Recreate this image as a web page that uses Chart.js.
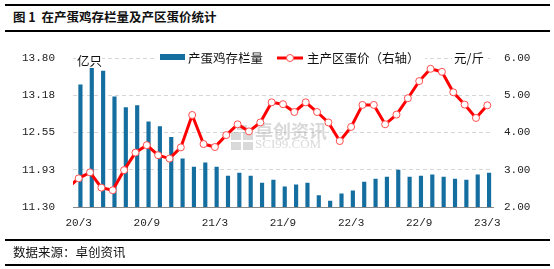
<!DOCTYPE html>
<html lang="zh">
<head>
<meta charset="UTF-8">
<title>在产蛋鸡存栏量及产区蛋价统计</title>
<style>
    body { margin: 0; background: #fff; }
    .wrap { position: relative; width: 554px; height: 269px; overflow: hidden; font-family: "Noto Sans CJK SC", sans-serif; color: #111; }
    .rule { position: absolute; left: 5px; width: 545px; height: 0; border-top: 2px solid #000; }
    .title { position: absolute; left: 13px; top: 7px; font-size: 12.5px; font-weight: bold; line-height: 20px; }
    .source { position: absolute; left: 13px; top: 243px; font-size: 12.5px; line-height: 18px; }
    canvas { position: absolute; left: 0; top: 0; }
</style>
</head>
<body>
<div class="wrap">
    <div class="rule" style="top:4px"></div>
    <div class="title">图 1&nbsp; 在产蛋鸡存栏量及产区蛋价统计</div>
    <div class="rule" style="top:30px"></div>
    <canvas id="chart" width="554" height="269"></canvas>
    <div class="rule" style="top:239px"></div>
    <div class="source">数据来源：卓创资讯</div>
    <div class="rule" style="top:264px"></div>
</div>

<script src="https://cdn.jsdelivr.net/npm/chart.js"></script>
<script>
    const months = ['20/3','20/4','20/5','20/6','20/7','20/8','20/9','20/10','20/11','20/12',
                    '21/1','21/2','21/3','21/4','21/5','21/6','21/7','21/8','21/9','21/10','21/11','21/12',
                    '22/1','22/2','22/3','22/4','22/5','22/6','22/7','22/8','22/9','22/10','22/11','22/12',
                    '23/1','23/2','23/3'];
    // 在产蛋鸡存栏量 (亿只)
    const stock = [13.35, 13.70, 13.58, 13.15, 12.97, 13.00, 12.73, 12.65, 12.47, 12.11,
                   11.97, 12.04, 11.97, 11.82, 11.87, 11.82, 11.70, 11.75, 11.64, 11.67,
                   11.70, 11.49, 11.40, 11.52, 11.57, 11.72, 11.77, 11.80, 11.92, 11.80,
                   11.82, 11.84, 11.80, 11.77, 11.75, 11.84, 11.87];
    // 主产区蛋价 (元/斤), the month before 20/3 only shows as the clipped start of the line
    const priceBefore = 2.5;
    const price = [2.77, 2.93, 2.52, 2.45, 2.99, 3.46, 3.66, 3.39, 3.30, 3.60,
                   4.47, 3.69, 3.61, 3.93, 4.22, 4.03, 4.27, 4.81, 4.76, 4.55,
                   4.81, 4.55, 4.27, 3.77, 4.15, 4.74, 4.74, 4.22, 4.48, 4.92,
                   5.38, 5.71, 5.63, 5.08, 4.75, 4.39, 4.73];
    const leftTicks = [11.30, 11.925, 12.55, 13.175, 13.80];
    const leftLabels = ['11.30', '11.93', '12.55', '13.18', '13.80'];
    const rightTicks = [2, 3, 4, 5, 6];

    const BLUE = '#156ea0';
    const RED = '#ff0000';
    const tickFont = { family: 'Liberation Mono', size: 11 };

    const linePoints = [{ x: -1, y: priceBefore }].concat(price.map((v, i) => ({ x: i, y: v })));

    const extras = {
        id: 'extras',
        beforeDatasetsDraw(chart) {
            // watermark
            const ctx = chart.ctx;
            ctx.save();
            ctx.fillStyle = 'rgba(160,160,160,0.4)';
            ctx.fillRect(231, 132, 10, 8);
            ctx.fillRect(243, 132, 10, 8);
            ctx.fillRect(231, 142, 10, 8);
            ctx.fillRect(243, 142, 10, 8);
            ctx.fillRect(237, 125, 10, 5);
            ctx.font = 'bold 18px "Noto Sans CJK SC"';
            ctx.textBaseline = 'middle';
            ctx.fillText('卓创资讯', 255, 131);
            ctx.font = '13px "Liberation Serif"';
            ctx.fillText('SCI99.COM', 255, 145);
            ctx.restore();
        },
        afterDraw(chart) {
            const ctx = chart.ctx;
            ctx.save();
            ctx.fillStyle = '#fff';
            ctx.fillRect(76, 52, 26, 16);
            ctx.fillRect(157, 51, 268, 15);
            ctx.fillRect(452, 51, 36, 15);
            ctx.fillStyle = '#111';
            ctx.textBaseline = 'middle';
            ctx.font = '12.5px "Noto Sans CJK SC"';
            ctx.fillText('亿只', 77, 61);
            ctx.fillText('元/斤', 454, 58);
            // legend
            ctx.fillStyle = BLUE;
            ctx.fillRect(160, 54, 25, 6);
            ctx.fillStyle = '#111';
            ctx.fillText('产蛋鸡存栏量', 188, 58);
            ctx.strokeStyle = RED;
            ctx.lineWidth = 3;
            ctx.beginPath();
            ctx.moveTo(277, 58);
            ctx.lineTo(303, 58);
            ctx.stroke();
            ctx.fillStyle = '#fff';
            ctx.strokeStyle = '#ff4d4d';
            ctx.lineWidth = 1;
            ctx.beginPath();
            ctx.arc(290, 58, 3.5, 0, Math.PI * 2);
            ctx.fill();
            ctx.stroke();
            ctx.fillStyle = '#111';
            ctx.fillText('主产区蛋价（右轴）', 307, 58);
            ctx.restore();
        }
    };

    new Chart(document.getElementById('chart'), {
        data: {
            labels: months,
            datasets: [{
                type: 'line',
                label: '主产区蛋价（右轴）',
                data: linePoints,
                xAxisID: 'xl',
                yAxisID: 'y1',
                borderColor: RED,
                borderWidth: 3,
                pointRadius: 3.5,
                pointBackgroundColor: '#fff',
                pointBorderColor: '#ff4d4d',
                pointBorderWidth: 1,
                tension: 0,
                clip: 0,
                order: 0
            }, {
                type: 'bar',
                label: '产蛋鸡存栏量',
                data: stock,
                xAxisID: 'x',
                yAxisID: 'y',
                backgroundColor: BLUE,
                barThickness: 3.5,
                order: 1
            }]
        },
        options: {
            responsive: false,
            animation: false,
            layout: { padding: { top: 58, left: 0, right: 0, bottom: 0 } },
            plugins: { legend: { display: false }, tooltip: { enabled: false } },
            scales: {
                x: {
                    type: 'category',
                    offset: true,
                    grid: { display: false, drawTicks: false },
                    border: { display: true, color: '#888', width: 1 },
                    ticks: {
                        autoSkip: false,
                        maxRotation: 0,
                        padding: 9,
                        color: '#222',
                        font: tickFont,
                        callback: (v, i) => (i % 6 === 0 ? months[i] : '')
                    },
                    afterFit: s => { s.height = 62; }
                },
                xl: {
                    type: 'linear',
                    display: false,
                    min: -0.5,
                    max: months.length - 0.5
                },
                y: {
                    position: 'left',
                    min: 11.3,
                    max: 13.8,
                    grid: { color: '#d6d6d6', drawTicks: false },
                    border: { display: false, dash: [4, 3] },
                    ticks: {
                        padding: 18,
                        color: '#222',
                        font: tickFont,
                        callback: (v, i) => leftLabels[i]
                    },
                    afterBuildTicks: s => { s.ticks = leftTicks.map(v => ({ value: v })); },
                    afterFit: s => { s.width = 73; }
                },
                y1: {
                    position: 'right',
                    min: 2,
                    max: 6,
                    grid: { display: false, drawTicks: false },
                    border: { display: false },
                    ticks: {
                        padding: 11,
                        color: '#222',
                        font: tickFont,
                        callback: v => Number(v).toFixed(2)
                    },
                    afterBuildTicks: s => { s.ticks = rightTicks.map(v => ({ value: v })); },
                    afterFit: s => { s.width = 61; }
                }
            }
        },
        plugins: [extras]
    });
</script>
</body>
</html>
